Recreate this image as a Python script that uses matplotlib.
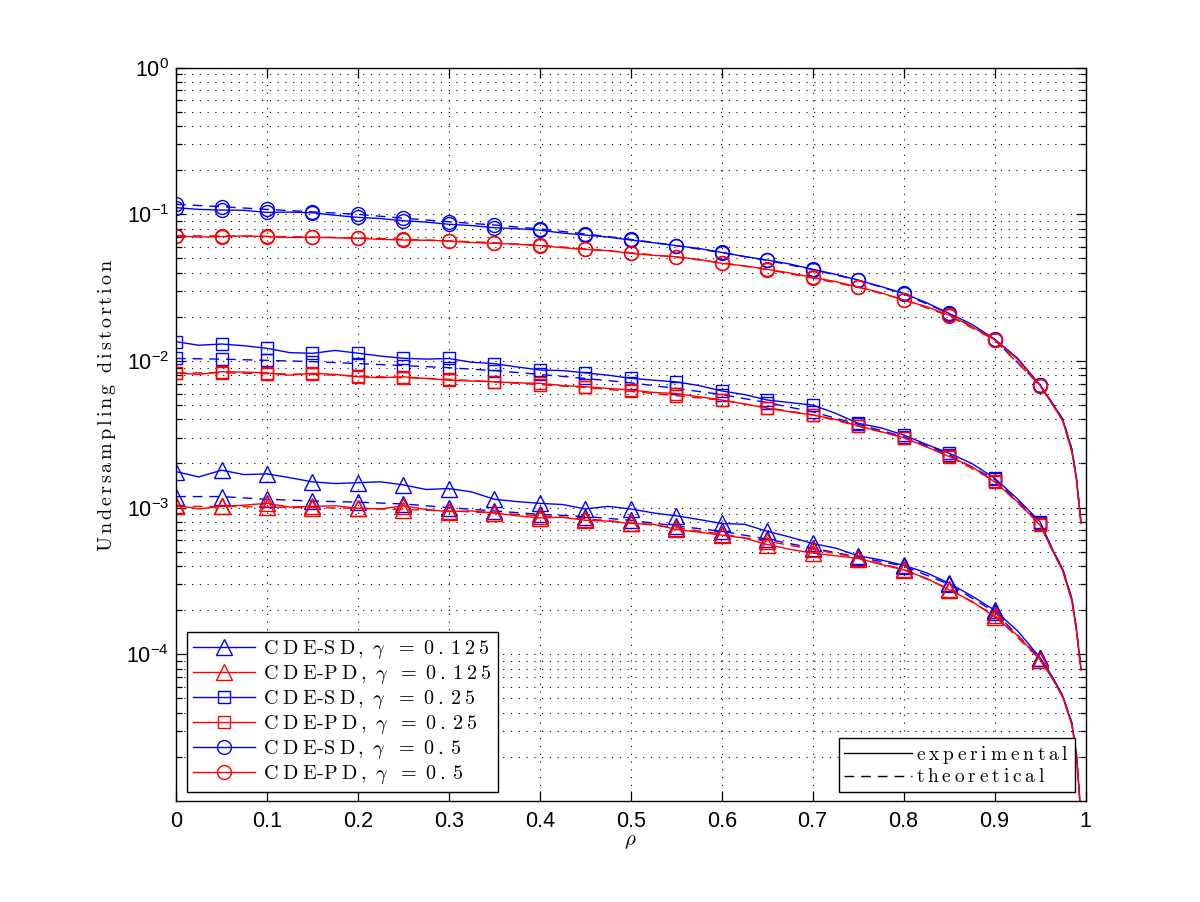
import numpy as np
import matplotlib
matplotlib.use('Agg')
from matplotlib import pyplot as plt
from matplotlib.ticker import FixedLocator, FixedFormatter, NullLocator

plt.rcParams['font.family'] = ['Liberation Sans', 'DejaVu Sans']
plt.rcParams['mathtext.fontset'] = 'custom'
plt.rcParams['mathtext.rm'] = 'Liberation Sans'
plt.rcParams['mathtext.it'] = 'Liberation Sans:italic'

# rho grids: experimental every 0.025, theoretical every 0.05, plus the steep tail near 1
rho_exp = np.round(np.arange(0, 0.951, 0.025), 3)
rho_th = np.round(np.arange(0, 0.951, 0.05), 3)
rho_tail = np.array([0.965, 0.975, 0.985, 0.99, 0.995])

# experimental (solid)
sd125_exp = [0.00176, 0.00162, 0.00180, 0.00168, 0.00170, 0.00160, 0.00150, 0.00146, 0.00148, 0.00150,
             0.00143, 0.00133, 0.00135, 0.00128, 0.00114, 0.00110, 0.00107, 0.00105, 0.00098, 0.00102,
             0.00098, 0.00092, 0.00088, 0.00083, 0.00078, 0.00077, 0.00069, 0.00063, 0.00057, 0.00053,
             0.00047, 0.00044, 0.000405, 0.00036, 0.000305, 0.00025, 0.00020, 0.000145, 0.000095,
             6.8e-5, 5.2e-5, 3.4e-5, 2.1e-5, 8e-6]
pd125_exp = [0.00104, 0.00098, 0.00102, 0.00104, 0.00107, 0.00101, 0.00102, 0.00103, 0.00099, 0.00098,
             0.00103, 0.00097, 0.00094, 0.00095, 0.00092, 0.00088, 0.00085, 0.00086, 0.00082, 0.00081,
             0.00078, 0.00077, 0.00071, 0.00068, 0.00065, 0.00062, 0.00056, 0.00052, 0.00049, 0.00047,
             0.00045, 0.00041, 0.000376, 0.00033, 0.000275, 0.00023, 0.00018, 0.000135, 0.000092,
             6.6e-5, 5.1e-5, 3.3e-5, 2.0e-5, 8e-6]
sd25_exp = [0.01354, 0.0128, 0.01305, 0.0127, 0.0122, 0.0114, 0.01128, 0.0118, 0.0113, 0.0108,
            0.01043, 0.0103, 0.0104, 0.0098, 0.0096, 0.0091, 0.00868, 0.0086, 0.0083, 0.0080,
            0.00762, 0.0074, 0.0072, 0.0068, 0.00625, 0.0059, 0.00542, 0.0052, 0.00501, 0.0044,
            0.00376, 0.0035, 0.00313, 0.0027, 0.00235, 0.0020, 0.00159, 0.00115, 0.00080,
            5.0e-4, 3.8e-4, 2.4e-4, 1.5e-4, 8e-5]
pd25_exp = [0.0083, 0.0081, 0.00845, 0.0084, 0.0083, 0.0080, 0.00824, 0.0081, 0.0078, 0.0077,
            0.0078, 0.0076, 0.0074, 0.0073, 0.00722, 0.0071, 0.00704, 0.0068, 0.00668, 0.0065,
            0.00634, 0.0061, 0.0060, 0.0057, 0.00542, 0.0051, 0.00476, 0.0045, 0.00428, 0.0040,
            0.00361, 0.0033, 0.0030, 0.0026, 0.00223, 0.0019, 0.0015, 0.0011, 0.00076,
            4.9e-4, 3.7e-4, 2.3e-4, 1.45e-4, 7.8e-5]
sd5_exp = [0.111, 0.108, 0.107, 0.1065, 0.103, 0.1035, 0.1025, 0.0985, 0.0953, 0.0935,
           0.0904, 0.0885, 0.0855, 0.0838, 0.081, 0.0798, 0.078, 0.0745, 0.0722, 0.0700,
           0.0668, 0.0640, 0.0611, 0.0585, 0.055, 0.0515, 0.0488, 0.0458, 0.0422, 0.0390,
           0.0356, 0.0322, 0.0289, 0.0250, 0.0211, 0.0178, 0.0141, 0.0105, 0.00686,
           0.0050, 0.0040, 0.0025, 0.0016, 0.0008]
pd5_exp = [0.0711, 0.0700, 0.0705, 0.0712, 0.0705, 0.0695, 0.0698, 0.0692, 0.0686, 0.0675,
           0.0668, 0.0665, 0.0658, 0.0642, 0.0634, 0.0625, 0.0611, 0.0592, 0.0577, 0.0565,
           0.0542, 0.0525, 0.0514, 0.0492, 0.0463, 0.0445, 0.0422, 0.0398, 0.0372, 0.0348,
           0.0320, 0.0292, 0.0260, 0.0235, 0.0205, 0.0172, 0.0140, 0.0103, 0.00680,
           0.0049, 0.0039, 0.0024, 0.00155, 0.00078]

# theoretical (dashed)
sd125_th = [0.00119, 0.00119, 0.00114, 0.00111, 0.00109, 0.00106, 0.00100, 0.00095, 0.00090, 0.00087,
            0.00082, 0.00075, 0.00069, 0.00061, 0.00053, 0.00046, 0.00040, 0.00030, 0.000195, 0.000094,
            6.7e-5, 5.2e-5, 3.4e-5, 2.1e-5, 8e-6]
pd125_th = [0.00102, 0.00102, 0.00101, 0.00100, 0.00099, 0.00097, 0.00095, 0.00092, 0.00088, 0.00084,
            0.00079, 0.00073, 0.00066, 0.00059, 0.00052, 0.000455, 0.00038, 0.00028, 0.000185, 0.000092,
            6.6e-5, 5.1e-5, 3.3e-5, 2.0e-5, 8e-6]
sd25_th = [0.0104, 0.0103, 0.0101, 0.0099, 0.0096, 0.0093, 0.0090, 0.0086, 0.0081, 0.0076,
           0.0071, 0.0065, 0.0059, 0.0052, 0.0045, 0.0037, 0.00305, 0.00230, 0.00156, 0.00079,
           5.0e-4, 3.8e-4, 2.4e-4, 1.5e-4, 8e-5]
pd25_th = [0.0083, 0.0083, 0.0082, 0.0081, 0.0079, 0.0077, 0.0075, 0.0072, 0.0069, 0.0066,
           0.0062, 0.0058, 0.0054, 0.0048, 0.0043, 0.0036, 0.0030, 0.00225, 0.00152, 0.00077,
           4.9e-4, 3.7e-4, 2.3e-4, 1.45e-4, 7.8e-5]
sd5_th = [0.117, 0.1127, 0.108, 0.104, 0.100, 0.094, 0.089, 0.0845, 0.0795, 0.0735,
          0.0675, 0.0612, 0.0548, 0.0485, 0.0420, 0.0355, 0.0287, 0.0210, 0.0140, 0.00686,
          0.0050, 0.0040, 0.0025, 0.0016, 0.0008]
pd5_th = [0.0715, 0.0712, 0.0708, 0.0700, 0.0690, 0.0675, 0.0660, 0.0640, 0.0615, 0.0582,
          0.0548, 0.0510, 0.0468, 0.0420, 0.0368, 0.0318, 0.0262, 0.0203, 0.0139, 0.00680,
          0.0049, 0.0039, 0.0024, 0.00155, 0.00078]

xticks = [0, 0.1, 0.2, 0.3, 0.4, 0.5, 0.6, 0.7, 0.8, 0.9, 1]
yticks = [1e-4, 1e-3, 1e-2, 1e-1, 1e0]
ytick_labels = [r'$10^{-4}$', r'$10^{-3}$', r'$10^{-2}$', r'$10^{-1}$', r'$10^{0}$']


# latex-ish letter spaced roman text
def spaced(s, gap=r'\,'):
    return r'\mathrm{' + gap.join(s) + '}'


def label(kind, g):
    return (r'$' + spaced('CDE', r'\;') + r'$-$' + spaced(kind, r'\;') + r'\,,\ \gamma\ \ =\ '
            + spaced(g, r'\:') + r'$')


series = [
    ('SD', '0.125', sd125_exp, sd125_th, 'b', '^'),
    ('PD', '0.125', pd125_exp, pd125_th, 'r', '^'),
    ('SD', '0.25', sd25_exp, sd25_th, 'b', 's'),
    ('PD', '0.25', pd25_exp, pd25_th, 'r', 's'),
    ('SD', '0.5', sd5_exp, sd5_th, 'b', 'o'),
    ('PD', '0.5', pd5_exp, pd5_th, 'r', 'o'),
]
msize = {'^': 11, 's': 8.5, 'o': 10}

fig = plt.figure(figsize=(12, 9.02), dpi=100)
ax = fig.add_axes([0.1467, 0.112, 0.7579, 0.8130])

x_exp = np.concatenate([rho_exp, rho_tail])
x_th = np.concatenate([rho_th, rho_tail])
handles = []
for kind, g, ye, yt, c, m in series:
    h, = ax.plot(x_exp, ye, '-', color=c, lw=1.0, marker=m, ms=msize[m], mfc='none', mew=1.0,
                 markevery=list(range(0, len(rho_exp), 2)), label=label(kind, g))
    ax.plot(x_th, yt, '--', color=c, lw=1.0, dashes=(7, 5), marker=m, ms=msize[m], mfc='none', mew=1.0,
            markevery=list(range(len(rho_th))))
    handles.append(h)

ax.set_yscale('log')
ax.set_xlim(0, 1)
ax.set_ylim(1e-5, 1)
ax.xaxis.set_major_locator(FixedLocator(xticks))
ax.xaxis.set_major_formatter(FixedFormatter(['%g' % t for t in xticks]))
ax.xaxis.set_minor_locator(NullLocator())
ax.yaxis.set_major_locator(FixedLocator(yticks))
ax.yaxis.set_major_formatter(FixedFormatter(ytick_labels))
minors = [k * 10.0 ** e for e in range(-5, 0) for k in range(2, 10)]
ax.yaxis.set_minor_locator(FixedLocator(minors))
ax.tick_params(which='both', direction='in', top=True, right=True, width=0.9)
ax.tick_params(axis='x', which='major', length=7, labelsize=15.5, pad=7)
ax.tick_params(axis='y', which='major', length=7, labelsize=15.5, pad=5)
ax.tick_params(which='minor', length=4)
ax.grid(True, which='major', axis='both', color='k', lw=0.8, linestyle=(0, (1, 6)))
ax.grid(True, which='minor', axis='y', color='k', lw=0.8, linestyle=(0, (1, 6)))
for s in ax.spines.values():
    s.set_linewidth(1.0)

ax.set_xlabel(r'$\rho$', fontsize=15, math_fontfamily='cm', labelpad=0)
ax.set_ylabel(r'$' + spaced('Undersampling') + r'\ \ ' + spaced('distortion') + r'$',
              fontsize=14.5, math_fontfamily='cm')
ax.yaxis.set_label_coords(-0.064, 0.539)

leg1 = ax.legend(handles=handles, loc='lower left', bbox_to_anchor=(0.012, 0.012), borderaxespad=0,
                 fontsize=14.5, fancybox=False, framealpha=1, edgecolor='k', handlelength=3.1,
                 labelspacing=0.1, borderpad=0.3, handletextpad=0.4)
leg1.get_frame().set_linewidth(1.0)
for t in leg1.get_texts():
    t.set_math_fontfamily('cm')
    t.set_fontfamily('cmr10')
ax.add_artist(leg1)

l_e, = ax.plot([], [], '-', color='k', lw=1.0)
l_t, = ax.plot([], [], '--', color='k', lw=1.0, dashes=(7, 5))
leg2 = ax.legend([l_e, l_t], [r'$' + spaced('experimental', r'\:') + r'$',
                              r'$' + spaced('theoretical', r'\:') + r'$'],
                 loc='lower right', bbox_to_anchor=(0.9885, 0.012), borderaxespad=0,
                 fontsize=14, fancybox=False, framealpha=1, edgecolor='k', handlelength=3.5,
                 labelspacing=0.12, borderpad=0.3, handletextpad=0.2)
leg2.get_frame().set_linewidth(1.0)
for t in leg2.get_texts():
    t.set_math_fontfamily('cm')

fig.savefig('out.png', dpi=100)
